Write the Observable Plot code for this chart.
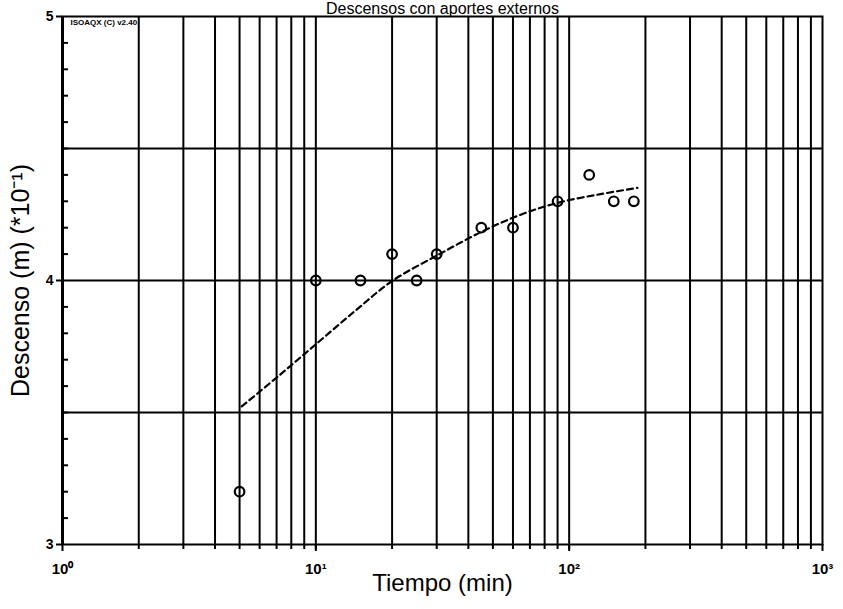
<!DOCTYPE html>
<html>
<head>
<meta charset="utf-8">
<script src="https://cdn.jsdelivr.net/npm/d3@7"></script>
<script src="https://cdn.jsdelivr.net/npm/@observablehq/plot@0.6"></script>
<style>
  body { margin: 0; background: #fff; }
  #chart svg { display: block; }
</style>
</head>
<body>
<div id="chart"></div>
<script>
// Observed drawdown (m ×10⁻¹) against time (min)
const tiempo   = [5, 10, 15, 20, 25, 30, 45, 60, 90, 120, 150, 180];
const descenso = [3.2, 4.0, 4.0, 4.1, 4.0, 4.1, 4.2, 4.2, 4.3, 4.4, 4.3, 4.3];

// Fitted type curve (dashed)
const ajusteTiempo   = [5.1, 7.2, 10.25, 14.5, 20, 30.5, 45.9, 65.5, 92.5, 133, 186];
const ajusteDescenso = [3.523, 3.642, 3.767, 3.89, 3.998, 4.098, 4.188, 4.252, 4.297, 4.327, 4.351];

// Axis ticks and labels
const decadas = [1, 10, 100, 1000];
const decadaEtiquetas = ["10⁰", "10¹", "10²", "10³"];
const rejillaX = [2, 3, 4, 5, 6, 7, 8, 9, 10, 20, 30, 40, 50, 60, 70, 80, 90, 100,
                  200, 300, 400, 500, 600, 700, 800, 900];
const rejillaY = [3.5, 4, 4.5];
const ticksY = [3, 4, 5];
const ticksMenoresY = [3.1, 3.2, 3.3, 3.4, 3.5, 3.6, 3.7, 3.8, 3.9, 4.1, 4.2, 4.3, 4.4, 4.5, 4.6, 4.7, 4.8, 4.9];

const titulo = "Descensos con aportes externos";
const firma = "ISOAQX (C) v2.40";
const etiquetaX = "Tiempo (min)";
const etiquetaY = "Descenso (m) (*10⁻¹)";

const puntos = tiempo.map((t, i) => ({t, s: descenso[i]}));
const ajuste = ajusteTiempo.map((t, i) => ({t, s: ajusteDescenso[i]}));

const font = "Liberation Sans, Arial, sans-serif";

const chart = Plot.plot({
  width: 843,
  height: 609,
  marginLeft: 62,
  marginRight: 21,
  marginTop: 16,
  marginBottom: 65,
  style: {fontFamily: font, background: "#fff", color: "#000", overflow: "visible"},
  x: {type: "log", domain: [1, 1000], axis: null},
  y: {domain: [3, 5], axis: null},
  marks: [
    // grid
    Plot.ruleX(rejillaX, {stroke: "#000", strokeWidth: 2}),
    Plot.ruleY(rejillaY, {stroke: "#000", strokeWidth: 2}),
    Plot.frame({stroke: "#000", strokeWidth: 2}),
    Plot.ruleX([1], {stroke: "#000", strokeWidth: 3}),

    // y axis: minor ticks pointing inward, major ticks with labels
    Plot.axisY(ticksMenoresY, {anchor: "left", tickSize: 6, dx: 6, tickFormat: () => "", label: null, strokeWidth: 2}),
    Plot.axisY(ticksY, {anchor: "left", tickSize: 6, tickPadding: 3, label: null, strokeWidth: 2,
      fontSize: 14, fontWeight: "bold", tickFormat: d => String(d)}),

    // x axis: small ticks at every grid line, decade labels
    Plot.axisX(rejillaX, {anchor: "bottom", tickSize: 5, tickFormat: () => "", label: null, strokeWidth: 2}),
    Plot.axisX(decadas, {anchor: "bottom", tickSize: 7, tickPadding: 12, label: null, strokeWidth: 2,
      fontSize: 15, fontWeight: "bold", tickFormat: d => decadaEtiquetas[decadas.indexOf(d)]}),

    // fitted curve and observations
    Plot.line(ajuste, {x: "t", y: "s", stroke: "#000", strokeWidth: 2.2, strokeDasharray: "6,4", curve: "catmull-rom"}),
    Plot.dot(puntos, {x: "t", y: "s", r: 4.8, stroke: "#000", strokeWidth: 2.2, fill: "none"}),

    // texts
    Plot.text([titulo], {frameAnchor: "top", dy: -3, lineAnchor: "bottom", fontSize: 16, fill: "#000"}),
    Plot.text([firma], {frameAnchor: "top-left", dx: 8, dy: 6, textAnchor: "start", lineAnchor: "middle",
      fontSize: 8, fontWeight: "bold", fill: "#000"}),
    Plot.text([etiquetaX], {frameAnchor: "bottom", dy: 46, fontSize: 24, fill: "#000"}),
    Plot.text([etiquetaY], {frameAnchor: "left", dx: -42, textAnchor: "middle", rotate: -90, fontSize: 25, fill: "#000"})
  ]
});

document.getElementById("chart").append(chart);
</script>
</body>
</html>
